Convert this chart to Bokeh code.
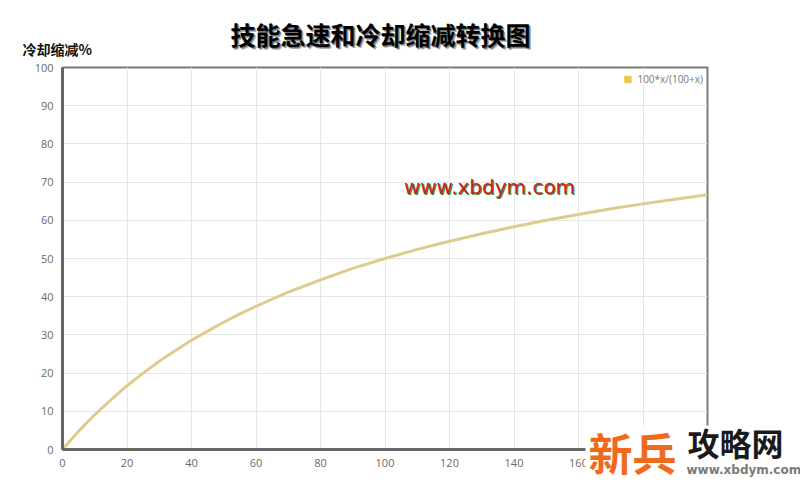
from bokeh.plotting import figure
from bokeh.models import Range1d, FixedTicker, Label, Legend, LegendItem, ColumnDataSource
from bokeh.layouts import column
from bokeh.embed import file_html
from bokeh.resources import INLINE

haste = [0, 5, 10, 15, 20, 25, 30, 35, 40, 45, 50, 55, 60, 70, 80, 90, 100, 110, 120, 130, 140,
         150, 160, 170, 180, 190, 200]
cdr = [0, 4.8, 9.1, 13.0, 16.7, 20.0, 23.1, 25.9, 28.6, 31.0, 33.3, 35.5, 37.5, 41.2, 44.4, 47.4,
       50.0, 52.4, 54.5, 56.5, 58.3, 60.0, 61.5, 63.0, 64.3, 65.5, 66.7]
x_ticks = [0, 20, 40, 60, 80, 100, 120, 140, 160, 180, 200]
y_ticks = [0, 10, 20, 30, 40, 50, 60, 70, 80, 90, 100]
series_name = "100*x/(100+x)"
title_text = "技能急速和冷却缩减转换图"
y_title = "冷却缩减%"

W, H = 800, 482
p = figure(width=W, height=H, output_backend="svg", toolbar_location=None,
           x_range=Range1d(0, 200), y_range=Range1d(0, 100),
           min_border_left=62, min_border_right=93, min_border_top=67, min_border_bottom=33)
p.frame_width = 645
p.frame_height = 382
p.outline_line_color = "#7a7a7a"
p.outline_line_width = 2

for ax in (p.xaxis[0], p.yaxis[0]):
    ax.axis_line_color = "#666666"
    ax.axis_line_width = 3
    ax.major_tick_line_color = None
    ax.minor_tick_line_color = None
    ax.major_label_text_font = "Open Sans"
    ax.major_label_text_font_size = "11px"
    ax.major_label_text_color = "#6a6a6a"
p.xaxis.ticker = FixedTicker(ticks=x_ticks)
p.yaxis.ticker = FixedTicker(ticks=y_ticks)
p.xaxis.major_label_standoff = 3
p.yaxis.major_label_standoff = 3
p.xgrid.ticker = FixedTicker(ticks=x_ticks)
p.ygrid.ticker = FixedTicker(ticks=y_ticks)
p.grid.grid_line_color = "#e6e6e6"

src = ColumnDataSource(dict(x=haste, y=cdr))
p.line("x", "y", source=src, line_color="#dfcb8e", line_width=3)
sw = p.scatter("x", "y", source=src, marker="square", size=0, fill_color="#ecc84c", line_color="#ecc84c")

legend = Legend(items=[LegendItem(label=series_name, renderers=[sw])],
                location="top_right", background_fill_alpha=0, border_line_color=None,
                label_text_font="Open Sans", label_text_font_size="10px", label_text_color="#777777",
                glyph_width=20, glyph_height=16, label_standoff=0, padding=2, margin=4)
p.add_layout(legend)

# transparent overlay for texts that lie outside the plot frame
q = figure(width=W, height=H, output_backend="svg", toolbar_location=None,
           x_range=Range1d(0, W), y_range=Range1d(0, H), min_border=0)
q.axis.visible = False
q.grid.visible = False
q.outline_line_color = None
q.background_fill_alpha = 0
q.border_fill_alpha = 0

def olabel(x, y, text, **kw):
    q.add_layout(Label(x=x, y=H - y, text=text, **kw))

for dx, dy, col in [(2, 2, "#b0b0b0"), (1, 1, "#707070"), (0, 0, "black")]:
    olabel(380 + dx, 33 + dy, title_text, text_align="center", text_baseline="middle",
           text_font="Noto Sans CJK SC", text_font_style="bold", text_font_size="25px", text_color=col)

olabel(22, 48, y_title, text_align="left", text_baseline="middle",
       text_font="Noto Sans CJK SC", text_font_style="bold", text_font_size="14px", text_color="#111111")

for dx, dy, col in [(1, 1, "#2f8a1f"), (0, 0, "#cc1f1f")]:
    olabel(489 + dx, 186 + dy, "www.xbdym.com", text_align="center", text_baseline="middle",
           text_font="DejaVu Sans", text_font_size="20px", text_color=col)

q.quad(left=[585], right=[W], bottom=[0], top=[H - 425], fill_color="white", line_color=None)
olabel(588, 451, "新兵", text_align="left", text_baseline="middle",
       text_font="Noto Sans CJK SC", text_font_style="bold", text_font_size="44px", text_color="#f06a1e")
olabel(687, 441, "攻略网", text_align="left", text_baseline="middle",
       text_font="Noto Sans CJK SC", text_font_style="bold", text_font_size="32px", text_color="#1a1a1a")
olabel(686, 469, "www.xbdym.com", text_align="left", text_baseline="middle",
       text_font="DejaVu Sans", text_font_style="bold", text_font_size="12px", text_color="#7a7a7a")

overlay = column(q, styles={"position": "absolute", "top": "0px", "left": "0px"})
layout = column(p, overlay)
open("out.html", "w").write(file_html(layout, INLINE))
